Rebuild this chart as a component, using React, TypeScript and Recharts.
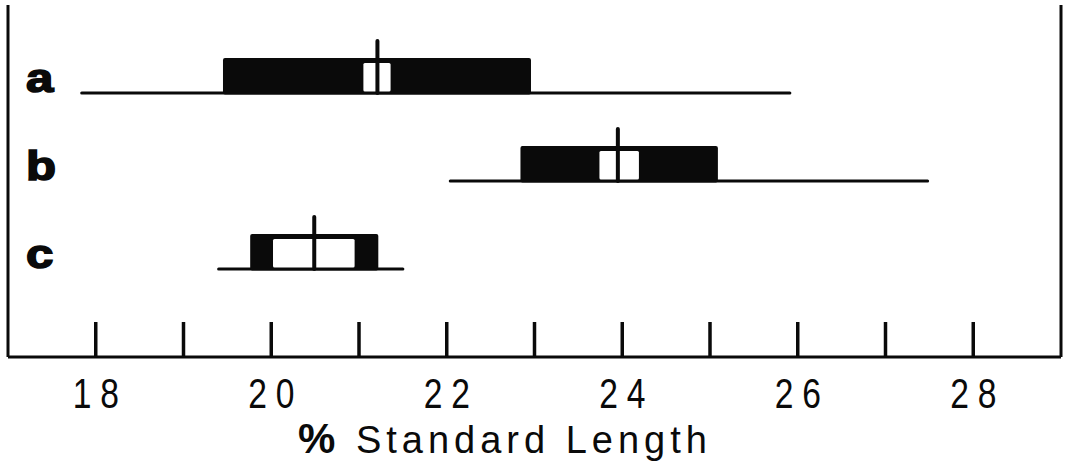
import React from 'react';
import { ComposedChart, Bar, XAxis, YAxis, ReferenceLine } from 'recharts';

// ---- data ----
const groups = ['a', 'b', 'c'];
const rangeLow = [17.84, 22.04, 19.4];
const rangeHigh = [25.91, 27.48, 21.5];
const sdLow = [19.45, 22.84, 19.76];
const sdHigh = [22.96, 25.09, 21.22];
const seLow = [21.05, 23.74, 20.02];
const seHigh = [21.36, 24.19, 20.95];
const means = [21.21, 23.95, 20.49];
const xTicks = [18, 19, 20, 21, 22, 23, 24, 25, 26, 27, 28];
const xDomain: [number, number] = [17, 29];
const xTickLabels: Record<number, string> = { 18: '18', 20: '20', 22: '22', 24: '24', 26: '26', 28: '28' };
const xTitle = 'Standard Length';
const xTitlePrefix = '%';

const rows = groups.map((name, i) => ({
  name,
  rangeLow: rangeLow[i],
  rangeHigh: rangeHigh[i],
  sdLow: sdLow[i],
  sdHigh: sdHigh[i],
  seLow: seLow[i],
  seHigh: seHigh[i],
  mean: means[i],
}));

const INK = '#0a0a0a';
const BAR = 35;
const PAD = { top: 26, bottom: 62 };

const RangeLine = (p: any) => {
  const yb = p.y + p.height;
  return <line x1={p.x} x2={p.x + p.width} y1={yb} y2={yb} stroke={INK} strokeWidth={3} strokeLinecap="round" />;
};
const SdBox = (p: any) => <rect x={p.x} y={p.y} width={p.width} height={p.height + 1.5} fill={INK} rx={2} />;
const SeBox = (p: any) => <rect x={p.x} y={p.y + 5} width={p.width} height={p.height - 6.5} fill="#fff" rx={1.5} />;
const MeanLine = (p: any) => (
  <line x1={p.x} x2={p.x} y1={p.y - 17} y2={p.y + p.height} stroke={INK} strokeWidth={4} strokeLinecap="round" />
);

const GroupTick = (p: any) => (
  <text
    transform={`translate(${p.x + 18},${p.y + 17}) scale(1.2,1)`}
    x={0}
    y={0}
    fontFamily="'Liberation Sans', Arial, sans-serif"
    fontWeight="bold"
    fontSize={41}
    stroke={INK}
    strokeWidth={1.6}
    fill={INK}
  >
    {p.payload.value}
  </text>
);

const LS = 11;
const XTick = (p: any) => {
  const v = p.payload.value as number;
  const label = xTickLabels[v];
  return (
    <g>
      <line x1={p.x} x2={p.x} y1={p.y} y2={p.y - 35} stroke={INK} strokeWidth={3.5} />
      {label ? (
        <text
          transform={`translate(${p.x},${p.y + 51}) scale(0.8,1)`}
          x={LS / 2}
          y={0}
          textAnchor="middle"
          fontFamily="'Liberation Sans', Arial, sans-serif"
          fontSize={42}
          letterSpacing={LS}
          fill={INK}
        >
          {label}
        </text>
      ) : null}
    </g>
  );
};

const Title = (p: any) => {
  const vb = p.viewBox || { x: 0, y: 0 };
  return (
    <text
      x={vb.x + 290}
      y={vb.y + 96}
      fontFamily="'Liberation Sans', Arial, sans-serif"
      fontSize={38}
      letterSpacing={5}
      fill={INK}
    >
      <tspan fontWeight="bold" fontSize={42}>{xTitlePrefix}</tspan>
      <tspan> {xTitle}</tspan>
    </text>
  );
};

const yAxisCommon = {
  type: 'category' as const,
  dataKey: 'name',
  width: 1,
  padding: PAD,
  axisLine: false,
  tickLine: false,
};

export default function App() {
  return (
    <div style={{ position: 'absolute', left: 0, top: 0, width: 1071, height: 475, background: '#fff' }}>
      <ComposedChart
        width={1071}
        height={475}
        data={rows}
        layout="vertical"
        margin={{ top: 5, right: 10, bottom: 0, left: 7 }}
      >
        <XAxis
          type="number"
          domain={xDomain}
          ticks={xTicks}
          interval={0}
          allowDataOverflow
          height={118}
          axisLine={{ stroke: INK, strokeWidth: 3 }}
          tickLine={false}
          tickSize={0}
          tickMargin={0}
          tick={<XTick />}
          label={{ value: xTitle, content: <Title /> }}
        />
        <YAxis yAxisId={0} {...yAxisCommon} tickSize={0} tickMargin={0} interval={0} tick={<GroupTick />} />
        <YAxis yAxisId="sd" {...yAxisCommon} hide />
        <YAxis yAxisId="se" {...yAxisCommon} hide />
        <YAxis yAxisId="mean" {...yAxisCommon} hide />
        <ReferenceLine x={17} stroke={INK} strokeWidth={3} ifOverflow="visible" />
        <ReferenceLine x={29} stroke={INK} strokeWidth={3} ifOverflow="visible" />
        <Bar
          yAxisId={0}
          dataKey={(d: any) => [d.rangeLow, d.rangeHigh]}
          barSize={BAR}
          shape={<RangeLine />}
          isAnimationActive={false}
        />
        <Bar
          yAxisId="sd"
          dataKey={(d: any) => [d.sdLow, d.sdHigh]}
          barSize={BAR}
          shape={<SdBox />}
          isAnimationActive={false}
        />
        <Bar
          yAxisId="se"
          dataKey={(d: any) => [d.seLow, d.seHigh]}
          barSize={BAR}
          shape={<SeBox />}
          isAnimationActive={false}
        />
        <Bar
          yAxisId="mean"
          dataKey={(d: any) => [d.mean, d.mean]}
          barSize={BAR}
          shape={<MeanLine />}
          isAnimationActive={false}
        />
      </ComposedChart>
    </div>
  );
}
